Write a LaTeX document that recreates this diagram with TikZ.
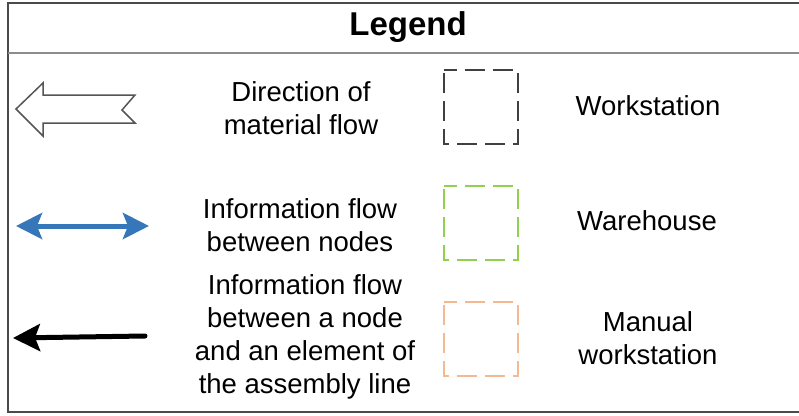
\documentclass[tikz,border=0pt]{standalone}
\usepackage{fontspec}
\setmainfont{Liberation Sans}
\usetikzlibrary{arrows.meta}
\definecolor{frame}{HTML}{4A4A4A}
\definecolor{rule}{HTML}{8C8C8C}
\definecolor{infoblue}{HTML}{3677BA}
\definecolor{wsgrey}{HTML}{404040}
\definecolor{whgreen}{HTML}{92D050}
\definecolor{mworange}{HTML}{F4B98F}
\definecolor{flowgrey}{HTML}{555555}
\tikzset{
  label text/.style={font=\fontsize{27.5}{33}\selectfont, align=center, inner sep=0pt, text=black},
  legend box/.style={line width=2pt, dash pattern=on 20pt off 8pt, dash phase=-3pt},
}
\begin{document}
\begin{tikzpicture}[x=1pt, y=-1pt]
  \useasboundingbox (0,0) rectangle (799,415);

  % outer frame and header rule
  \draw[frame, line width=2pt] (801,3) -- (8,3) -- (8,412) -- (801,412);
  \draw[rule, line width=2.5pt] (8,53) -- (801,53);
  \node[font=\fontsize{33}{36}\selectfont\bfseries, inner sep=0pt] (title) at (408,27) {Legend};

  % material flow: hollow notched arrow
  \draw[flowgrey, line width=1.5pt, line join=miter, fill=white]
    (16,109) -- (43,83) -- (43,95) -- (135,95) -- (122,110) -- (135,123)
    -- (43,123) -- (43,136) -- cycle;
  \node[label text] (mflow) at (301,108) {Direction of\\material flow};

  % information flow between nodes
  \coordinate (ia) at (16,226);
  \coordinate (ib) at (149,226);
  \draw[infoblue, line width=5pt, {Stealth[length=26pt,width=26pt,inset=5pt]}-{Stealth[length=26pt,width=26pt,inset=5pt]}] (ia) -- (ib);
  \node[label text] (iflow) at (300,225) {Information flow\\between nodes};

  % information flow to an element of the line
  \coordinate (ea) at (145,336);
  \coordinate (eb) at (13,338);
  \draw[black, line width=5pt, line cap=round, -{Stealth[length=27pt,width=27pt,inset=5pt]}] (ea) -- (eb);
  \node[label text] (eflow) at (305,337) {Information flow\\between a node\\and an element of\\the assembly line};

  % workstation kinds
  \draw[legend box, wsgrey] (444,70) rectangle (518,144);
  \node[label text] (ws) at (648,106) {Workstation};

  \draw[legend box, whgreen] (444,186) rectangle (518,260);
  \node[label text] (wh) at (647,221) {Warehouse};

  \draw[legend box, mworange] (444,302) rectangle (518,376);
  \node[label text] (mw) at (648,338) {Manual\\workstation};
\end{tikzpicture}
\end{document}
